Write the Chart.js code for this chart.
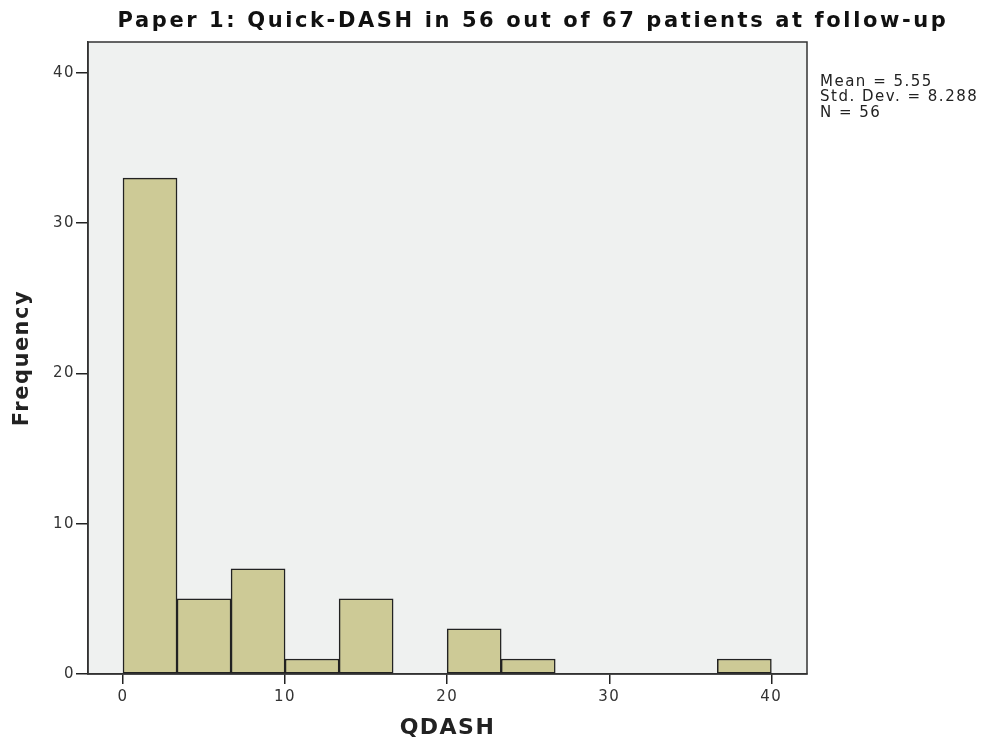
<!DOCTYPE html>
<html>
<head>
<meta charset="utf-8">
<script src="https://cdn.jsdelivr.net/npm/chart.js@4.4.1/dist/chart.umd.min.js"></script>
<style>
html,body{margin:0;padding:0;background:#fff;}
#wrap{width:986px;height:741px;position:relative;}
</style>
</head>
<body>
<div id="wrap"><canvas id="c" width="986" height="741"></canvas></div>
<script>
// Histogram data (bin width 10/3)
const binStarts = [0, 3.333, 6.667, 10, 13.333, 16.667, 20, 23.333, 26.667, 30, 33.333, 36.667];
const binWidth = 10 / 3;
const frequencies = [33, 5, 7, 1, 5, 0, 3, 1, 0, 0, 0, 1];
const xTicks = [0, 10, 20, 30, 40];
const yTicks = [0, 10, 20, 30, 40];
const titleText = "Paper 1: Quick-DASH in 56 out of 67 patients at follow-up";
const statsLines = ["Mean = 5.55", "Std. Dev. = 8.288", "N = 56"];

const points = binStarts.map((s, i) => ({ x: s + binWidth / 2, y: frequencies[i] }));

const FONT = "'DejaVu Sans', sans-serif";

const decor = {
  id: 'decor',
  beforeDraw(chart) {
    const { ctx, chartArea: a } = chart;
    ctx.save();
    ctx.fillStyle = '#eff1f0';
    ctx.fillRect(a.left, a.top, a.right - a.left, a.bottom - a.top);
    ctx.restore();
    ctx.letterSpacing = '1.5px';
  },
  afterDraw(chart) {
    const { ctx, chartArea: a } = chart;
    ctx.save();
    ctx.letterSpacing = '0px';
    ctx.strokeStyle = '#333';
    ctx.lineWidth = 1.5;
    ctx.strokeRect(a.left, a.top, a.right - a.left, a.bottom - a.top);
    // title
    ctx.fillStyle = '#111';
    ctx.font = "bold 21px " + FONT;
    ctx.letterSpacing = '2.6px';
    ctx.textAlign = 'center';
    ctx.textBaseline = 'middle';
    ctx.fillText(titleText, 533, 22);
    // stats
    ctx.font = "15px " + FONT;
    ctx.letterSpacing = '1.5px';
    ctx.textAlign = 'left';
    ctx.fillStyle = '#222';
    statsLines.forEach((t, i) => ctx.fillText(t, 820, 82 + i * 15.5));
    ctx.restore();
  }
};

new Chart(document.getElementById('c'), {
  type: 'bar',
  data: {
    datasets: [{
      data: points,
      backgroundColor: '#cdca96',
      borderColor: '#222',
      borderWidth: 1.5,
      borderSkipped: false,
      barPercentage: 1,
      categoryPercentage: 1
    }]
  },
  options: {
    responsive: false,
    animation: false,
    layout: { padding: { top: 42, right: 179, bottom: 0, left: 0 } },
    plugins: { legend: { display: false }, tooltip: { enabled: false }, title: { display: false } },
    scales: {
      x: {
        type: 'linear',
        min: -2.16,
        max: 42.2,
        offset: false,
        afterBuildTicks: s => { s.ticks = xTicks.map(v => ({ value: v })); },
        afterFit: s => { s.height = 67; },
        grid: { display: true, offset: false, drawOnChartArea: false, drawTicks: true, tickLength: 10, color: '#222', lineWidth: 1.5 },
        border: { display: true, color: '#333', width: 1.5 },
        ticks: { font: { family: FONT, size: 15 }, color: '#333', padding: 4, maxRotation: 0 },
        title: { display: true, text: 'QDASH', font: { family: FONT, size: 22, weight: 'bold' }, color: '#222', padding: { top: 8, bottom: 0 } }
      },
      y: {
        min: 0,
        max: 42.06,
        afterBuildTicks: s => { s.ticks = yTicks.map(v => ({ value: v })); },
        afterFit: s => { s.width = 88; },
        grid: { display: true, drawOnChartArea: false, drawTicks: true, tickLength: 12, color: '#222', lineWidth: 1.5 },
        border: { display: true, color: '#333', width: 1.5 },
        ticks: { font: { family: FONT, size: 15 }, color: '#333', padding: 1 },
        title: { display: true, text: 'Frequency', font: { family: FONT, size: 21, weight: 'bold' }, color: '#222', padding: { top: 10, bottom: 2 } }
      }
    }
  },
  plugins: [decor]
});
</script>
</body>
</html>
